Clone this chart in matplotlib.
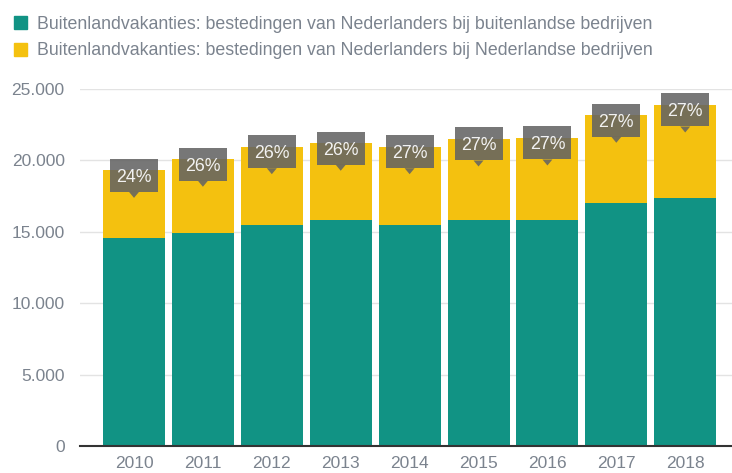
import matplotlib.pyplot as plt
import matplotlib.patches as mpatches
import matplotlib.transforms as mtransforms
from matplotlib.ticker import FuncFormatter

plt.rcParams['font.family'] = ['Liberation Sans', 'DejaVu Sans']

years = ['2010', '2011', '2012', '2013', '2014', '2015', '2016', '2017', '2018']
foreign = [14600, 14900, 15500, 15800, 15450, 15800, 15800, 17000, 17400]
dutch = [4700, 5180, 5460, 5400, 5510, 5700, 5770, 6160, 6480]
share_labels = ['24%', '26%', '26%', '26%', '27%', '27%', '27%', '27%', '27%']

label_foreign = 'Buitenlandvakanties: bestedingen van Nederlanders bij buitenlandse bedrijven'
label_dutch = 'Buitenlandvakanties: bestedingen van Nederlanders bij Nederlandse bedrijven'

green = '#119384'
yellow = '#f4c10f'
txt_gray = '#7b838e'
box_gray = '#636363'

fig = plt.figure(figsize=(7.32, 4.73), dpi=100)
ax = fig.add_axes([80 / 732, 27 / 473, 652 / 732, (446 - 89) / 473])

x = list(range(len(years)))
ax.bar(x, foreign, width=0.9, color=green, zorder=2)
ax.bar(x, dutch, bottom=foreign, width=0.9, color=yellow, zorder=2)

# percentage callouts: grey box (48x33 px) + small pointer underneath, sized in inches
totals = [f + d for f, d in zip(foreign, dutch)]
px = 1 / 100
cy = -5 * px          # box centre a few pixels below the bar top
bw, bh = 48 * px, 33 * px
for i, (t, lab) in enumerate(zip(totals, share_labels)):
    tr = fig.dpi_scale_trans + mtransforms.ScaledTranslation(i, t, ax.transData)
    ax.add_patch(mpatches.Rectangle((-bw / 2, cy - bh / 2), bw, bh, transform=tr,
                                    fc=box_gray, ec='none', alpha=0.87, zorder=4))
    yb = cy - bh / 2
    ax.add_patch(mpatches.Polygon([(-5 * px, yb), (5 * px, yb), (0, yb - 6 * px)],
                                  closed=True, transform=tr, fc=box_gray, ec='none',
                                  alpha=0.87, zorder=4))
    ax.text(0, cy, lab, transform=tr, ha='center', va='center_baseline',
            fontsize=12.8, color='#f2f2f2', zorder=5)

ax.set_xlim(-0.784, 8.679)
ax.set_ylim(0, 25000)
ax.set_yticks([0, 5000, 10000, 15000, 20000, 25000])
ax.yaxis.set_major_formatter(FuncFormatter(lambda v, p: f'{int(v):,}'.replace(',', '.')))
ax.set_xticks(x)
ax.set_xticklabels(years)
ax.tick_params(axis='both', length=0, labelsize=12.5, colors=txt_gray)
ax.tick_params(axis='y', pad=11)
ax.tick_params(axis='x', pad=7)
ax.grid(axis='y', color='#e3e3e3', linewidth=1, zorder=0)
ax.set_axisbelow(True)
for s in ['top', 'right', 'left']:
    ax.spines[s].set_visible(False)
ax.spines['bottom'].set_color('#333333')
ax.spines['bottom'].set_linewidth(1.5)
ax.spines['bottom'].set_zorder(3)

handles = [mpatches.Patch(color=green), mpatches.Patch(color=yellow)]
fig.legend(handles, [label_foreign, label_dutch], loc='upper left',
           bbox_to_anchor=(0.0, 0.997), frameon=False, fontsize=12.8,
           labelcolor=txt_gray, handlelength=0.74, handleheight=0.74,
           handletextpad=0.55, labelspacing=0.55, borderaxespad=0.4)

fig.savefig('out.png', dpi=100)
